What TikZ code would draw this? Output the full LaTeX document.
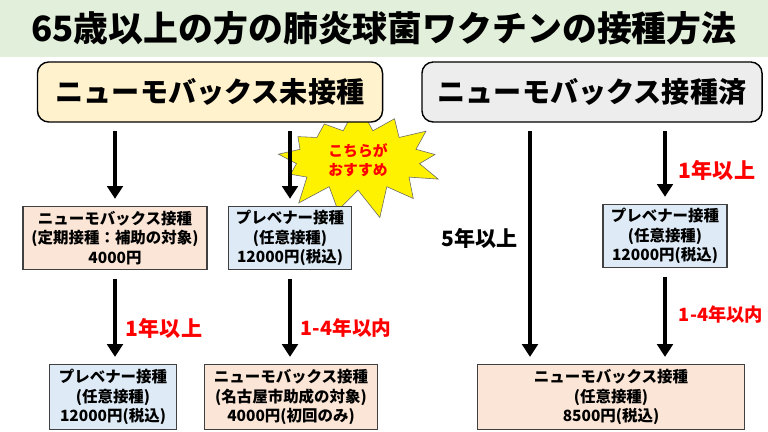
\documentclass[tikz,border=0pt]{standalone}
\usepackage{fontspec}
\setmainfont{Noto Sans CJK JP}
\usetikzlibrary{arrows.meta, positioning, shapes.symbols}

\definecolor{bandgreen}{HTML}{E2EFDA}
\definecolor{creamfill}{HTML}{FFF2CC}
\definecolor{grayfill}{HTML}{EDEDED}
\definecolor{peachfill}{HTML}{FBE5D6}
\definecolor{bluefill}{HTML}{DEEBF7}

\begin{document}
\begin{tikzpicture}[
    x=0.025cm, y=-0.025cm,
    every node/.style={font=\bfseries},
    topbox/.style={draw, line width=1pt, rounded corners=8pt, minimum height=1.5cm, font=\fontsize{20}{24}\selectfont\bfseries},
    stepbox/.style={draw=black!75, line width=0.8pt, align=center, inner sep=2pt, minimum height=1.58cm, font=\fontsize{11}{14}\selectfont\bfseries},
    arrow/.style={-{Triangle[width=11pt,length=9pt]}, line width=2.8pt, shorten <=6pt, shorten >=5pt},
    redlabel/.style={text=red, font=\fontsize{15}{18}\selectfont\bfseries}
]
\useasboundingbox (0,0) rectangle (768,432);
\fill[bandgreen] (0,0) rectangle (768,57);
\node[font=\fontsize{24.8}{30}\selectfont\bfseries] (title) at (384,28) {65歳以上の方の肺炎球菌ワクチンの接種方法};
% recommendation star (behind the boxes)
\node[starburst, starburst points=13, starburst point height=0.75cm, random starburst=7, fill=yellow, draw=black!60, minimum width=4.6cm, minimum height=2.7cm, align=center, text=red, font=\fontsize{10.5}{13.5}\selectfont\bfseries] (star) at (358,160) {こちらが\\おすすめ};
\node[topbox, fill=creamfill, minimum width=8.625cm] (topL) at (210,92) {ニューモバックス未接種};
\node[topbox, fill=grayfill, minimum width=8.5cm] (topR) at (592,92) {ニューモバックス接種済};
% left branch
\node[stepbox, fill=peachfill, minimum width=4.6cm] (pneA) at (115,238) {ニューモバックス接種\\(定期接種：補助の対象)\\4000円};
\node[stepbox, fill=bluefill, minimum width=3.175cm, minimum height=1.625cm] (preC) at (113,397) {プレベナー接種\\(任意接種)\\12000円(税込)};
% middle branch
\node[stepbox, fill=bluefill, minimum width=3.075cm] (preB) at (290,238) {プレベナー接種\\(任意接種)\\12000円(税込)};
\node[stepbox, fill=peachfill, minimum width=4.325cm, minimum height=1.625cm] (pneD) at (291,397) {ニューモバックス接種\\(名古屋市助成の対象)\\4000円(初回のみ)};
% right branch
\node[stepbox, fill=bluefill, minimum width=3.1cm] (preE) at (665,236) {プレベナー接種\\(任意接種)\\12000円(税込)};
\node[stepbox, fill=peachfill, minimum width=6.675cm, minimum height=1.625cm] (pneF) at (611,397) {ニューモバックス接種\\(任意接種)\\8500円(税込)};
\coordinate (five) at (530,0);
\draw[arrow] (pneA.north |- topL.south) -- (pneA.north);
\draw[arrow] (preB.north |- topL.south) -- (preB.north);
\draw[arrow] (pneA.south) -- (pneA.south |- preC.north);
\draw[arrow] (preB.south) -- (preB.south |- pneD.north);
\draw[arrow] (topR.south -| five) -- (pneF.north -| five);
\draw[arrow] (preE.north |- topR.south) -- (preE.north);
\draw[arrow] (preE.south) -- (preE.south |- pneF.north);
\node[redlabel, anchor=west] (gapA) at (121,328) {1年以上};
\node[redlabel, anchor=west, font=\fontsize{14}{17}\selectfont\bfseries] (gapB) at (296,328) {1-4年以内};
\node[redlabel, anchor=west] (gapE1) at (674,170) {1年以上};
\node[redlabel, anchor=west, font=\fontsize{13}{16}\selectfont\bfseries] (gapE2) at (674,315) {1-4年以内};
\node[font=\fontsize{15}{18}\selectfont\bfseries, anchor=east] (gapF) at (523,238) {5年以上};
\end{tikzpicture}
\end{document}
